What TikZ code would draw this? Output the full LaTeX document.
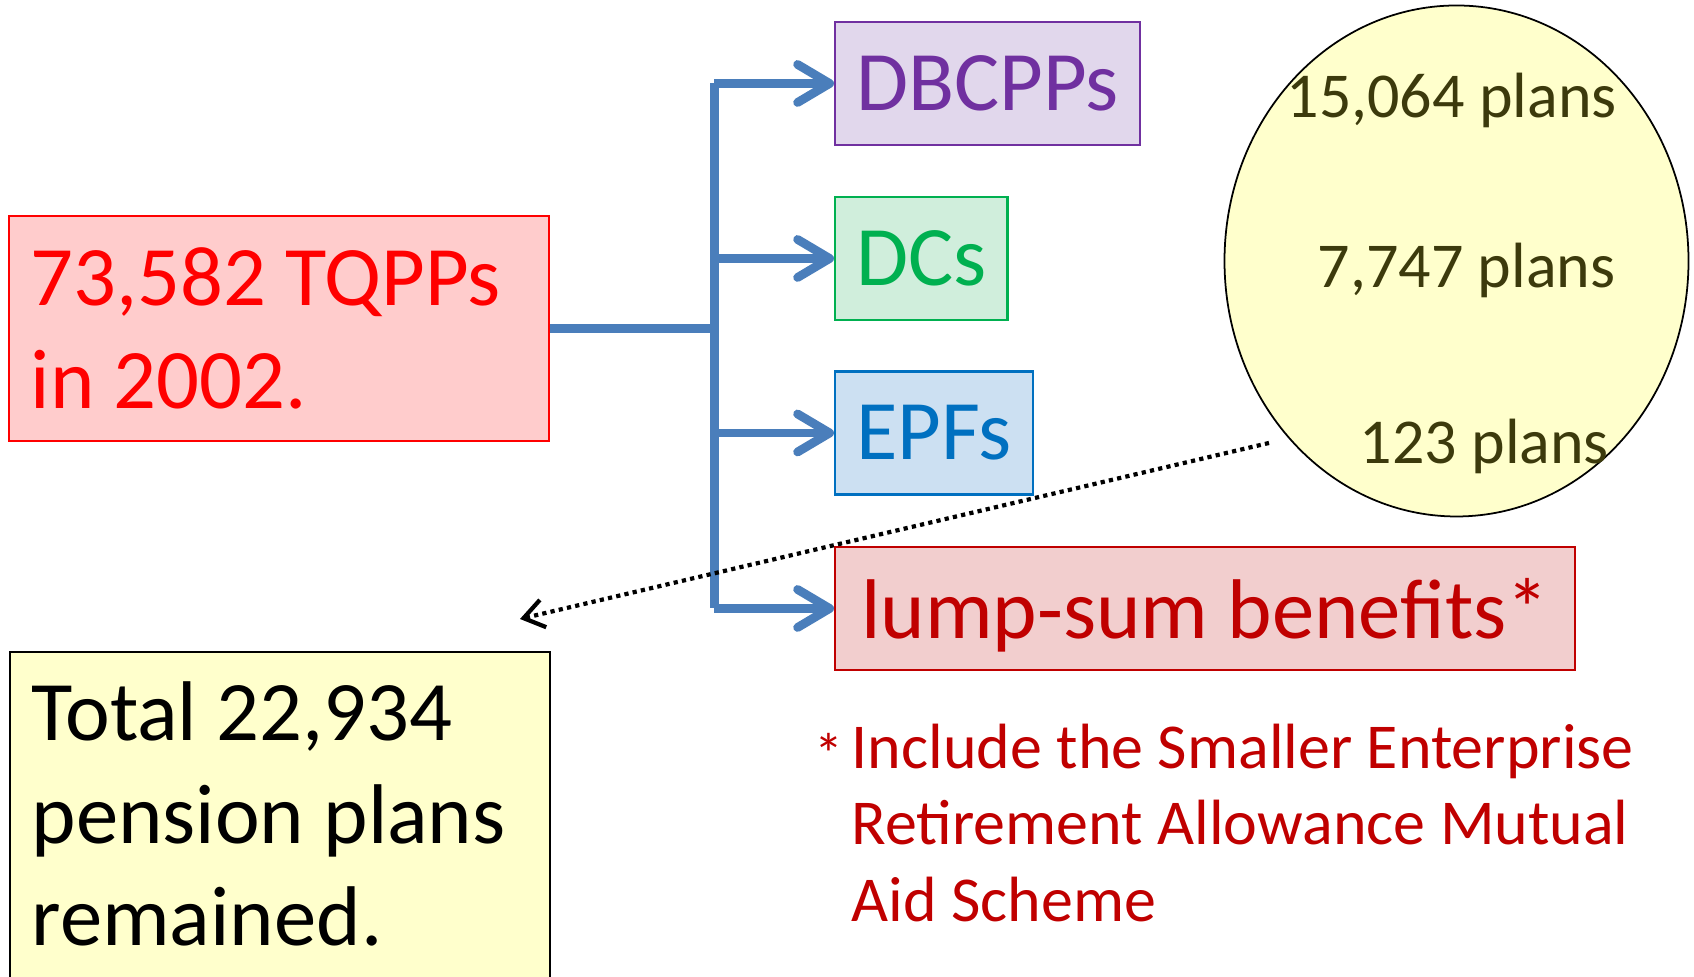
\documentclass[tikz,border=0pt]{standalone}
\usepackage{fontspec}
\setmainfont{Carlito}
\usepackage{xcolor}
\usetikzlibrary{arrows.meta}
\usetikzlibrary{shapes.geometric}
\definecolor{linecolor}{HTML}{4A7EBB}
\definecolor{tqppred}{HTML}{FF0000}
\definecolor{tqppfill}{HTML}{FFCCCC}
\definecolor{dbpurple}{HTML}{7030A0}
\definecolor{dbfill}{HTML}{E1D7EC}
\definecolor{dcgreen}{HTML}{00B050}
\definecolor{dcfill}{HTML}{D0EEDC}
\definecolor{epfblue}{HTML}{0070C0}
\definecolor{epffill}{HTML}{CCE0F2}
\definecolor{lumpred}{HTML}{C00000}
\definecolor{lumpfill}{HTML}{F2CECE}
\definecolor{paleyellow}{HTML}{FFFFCC}
\definecolor{planstext}{HTML}{3C3A0C}

\begin{document}
\begin{tikzpicture}[
  box/.style={draw, line width=0.6pt, inner ysep=0pt, inner xsep=0.21cm, minimum height=1.23cm},
  big/.style={font=\fontsize{24.1}{29.1}\selectfont},
  small/.style={font=\fontsize{18.2}{21.8}\selectfont},
  trunk/.style={linecolor, line width=2.5pt},
  branch/.style={trunk, -{Straight Barb[length=3.2mm,width=3.8mm,round]}},
]
\useasboundingbox (0,0) rectangle (16.94,9.77);
% left boxes
\node[box, big, draw=tqppred, fill=tqppfill, text=tqppred, align=flush left, inner xsep=0.22cm,
      text width=4.965cm, minimum height=2.25cm] (tqpp) at (2.79,6.485) {73,582 TQPPs\\in 2002.};
\node[box, big, draw=black, fill=paleyellow, align=flush left, inner xsep=0.22cm, anchor=north west,
      text width=4.965cm, text height=0pt, minimum height=3.83cm] (total) at (0.086,3.26) {Total 22,934\\pension plans\\remained.};
% plan types
\node[box, big, draw=dbpurple, fill=dbfill, text=dbpurple, anchor=west] (dbcpp) at (8.34,8.935) {DBCPPs};
\node[box, big, draw=dcgreen, fill=dcfill, text=dcgreen, anchor=west] (dc) at (8.34,7.185) {DCs};
\node[box, big, draw=epfblue, fill=epffill, text=epfblue, anchor=west] (epf) at (8.34,5.44) {EPFs};
\node[box, big, draw=lumpred, fill=lumpfill, text=lumpred, anchor=west, text depth=0pt,
      minimum width=7.4cm] (lump) at (8.34,3.685) {lump-sum benefits*};
% counts
\node[ellipse, draw=black, line width=0.5pt, fill=paleyellow, inner sep=0pt,
      minimum width=4.64cm, minimum height=5.11cm] (plans) at (14.565,7.16) {};
\node[small, text=planstext, anchor=base west, inner sep=0pt] (n15064) at (12.86,8.59) {15,064 plans};
\node[small, text=planstext, anchor=base west, inner sep=0pt] (n7747) at (13.17,6.89) {7,747 plans};
\node[small, text=planstext, anchor=base west, inner sep=0pt] (n123) at (13.59,5.13) {123 plans};
% note
\node[small, text=lumpred, align=flush left, anchor=north west, inner sep=0pt] (note) at (8.51,2.54)
  {\llap{\raisebox{-0.06cm}{\fontsize{16.5}{16.5}\selectfont*}\hspace{0.08cm}}Include the Smaller Enterprise\\Retirement Allowance Mutual\\Aid Scheme};
% connectors
\draw[trunk] (tqpp.east) -- ++(1.64,0) coordinate (fork);
\draw[trunk] (fork |- dbcpp.west) -- (fork |- lump.west);
\foreach \n in {dbcpp,dc,epf,lump}
    \draw[branch] (fork |- \n.west) -- (\n.west);
\coordinate (dotstart) at (12.69,5.34);
\coordinate (dotend) at (5.20,3.58);
\draw[black, line width=1.2pt, dash pattern=on 1.2pt off 1.2pt, -{Straight Barb[length=2mm,width=2.8mm]}] (dotstart) -- (dotend);
\end{tikzpicture}
\end{document}
